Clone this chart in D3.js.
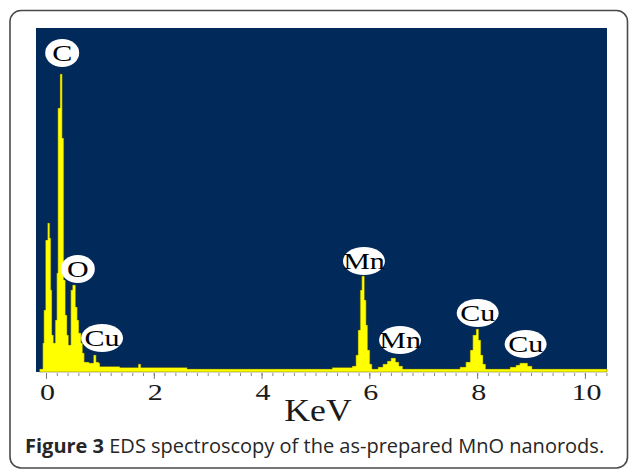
<!DOCTYPE html>
<html>
<head>
<meta charset="utf-8">
<script src="https://cdn.jsdelivr.net/npm/d3@7"></script>
<style>
  html, body { margin: 0; padding: 0; background: #ffffff; }
  svg { display: block; }
</style>
</head>
<body>
<svg id="chart" width="629" height="472"></svg>
<script>
// EDS spectrum: channel start energies (keV) and counts, drawn as a step histogram
const energyKeV = [
  -0.12, -0.06, -0.04, -0.01, 0.03, 0.07, 0.09, 0.11, 0.14, 0.17,
  0.20, 0.22, 0.26, 0.30, 0.33, 0.36, 0.39, 0.42, 0.46, 0.49,
  0.55, 0.58, 0.61, 0.65, 0.68, 0.71, 0.80, 0.88, 0.93, 0.98,
  1.00, 1.37, 1.71, 1.76, 2.62, 5.31, 5.68, 5.75, 5.79, 5.83,
  5.86, 5.91, 5.94, 5.97, 6.01, 6.05, 6.16, 6.25, 6.33, 6.40,
  6.49, 6.55, 6.62, 7.68, 7.79, 7.87, 7.92, 7.98, 8.03, 8.07,
  8.11, 8.16, 8.61, 8.72, 8.79, 8.94, 9.02, 10.41
];
const counts = [
  30, 290, 620, 1320, 1490, 1340, 820, 370, 290, 520,
  990, 2640, 2980, 2340, 920, 570, 370, 270, 820, 870,
  650, 520, 390, 290, 190, 100, 90, 170, 100, 90,
  55, 45, 80, 45, 30, 45, 60, 170, 420, 820,
  960, 720, 470, 220, 80, 30, 50, 80, 110, 140,
  100, 60, 30, 50, 100, 220, 370, 430, 320, 170,
  80, 30, 50, 70, 90, 60, 30, 30
];

// Peak labels: element, energy position (keV) and height (counts)
const peakLabels = ["C", "O", "Cu", "Mn", "Mn", "Cu", "Cu"];
const peakLabelEnergy = [0.30, 0.59, 1.04, 5.90, 6.57, 8.01, 8.90];
const peakLabelCounts = [3190, 1030, 340, 1110, 320, 590, 280];

// Axis ticks
const majorTicks = [0, 2, 4, 6, 8, 10];
const minorTicks = d3.range(0, 10.41, 0.2).map(v => +v.toFixed(1));
const xTitle = "KeV";
const captionBold = "Figure 3";
const captionText = " EDS spectroscopy of the as-prepared MnO nanorods.";

const serif = "'Liberation Serif', 'Times New Roman', serif";
const stretch = 1.25; // the serif lettering in this figure is set wide

const svg = d3.select("#chart");

// Rounded panel frame
svg.append("rect")
  .attr("x", 10).attr("y", 10.5)
  .attr("width", 617.5).attr("height", 457.5)
  .attr("rx", 11).attr("ry", 11)
  .attr("fill", "#ffffff")
  .attr("stroke", "#4a4a4a")
  .attr("stroke-width", 1.6);

const plot = { left: 36, right: 607, top: 28, bottom: 372 };

const x = d3.scaleLinear().domain([-0.186, 10.41]).range([plot.left, plot.right]);
const y = d3.scaleLinear().domain([0, 3440]).range([plot.bottom, plot.top]);

// Plot background
svg.append("rect")
  .attr("x", plot.left).attr("y", plot.top)
  .attr("width", plot.right - plot.left)
  .attr("height", plot.bottom - plot.top)
  .attr("fill", "#01295a");

const spectrum = energyKeV.map((e, i) => ({ e, c: counts[i] }));

const area = d3.area()
  .curve(d3.curveStepAfter)
  .x(d => x(d.e))
  .y0(y(0))
  .y1(d => y(d.c));

svg.append("path")
  .datum(spectrum)
  .attr("d", area)
  .attr("fill", "#ffff00")
  .attr("stroke", "#5c5c10")
  .attr("stroke-width", 0.5)
  .attr("stroke-linejoin", "miter");

// Axis ticks below the baseline
const minorAxis = d3.axisBottom(x)
  .tickValues(minorTicks)
  .tickSize(3)
  .tickFormat("");
svg.append("g")
  .attr("transform", `translate(0,${plot.bottom + 1})`)
  .call(minorAxis)
  .call(g => g.select(".domain").remove())
  .call(g => g.selectAll("line").attr("stroke", "#8a8a8a"));

const majorAxis = d3.axisBottom(x)
  .tickValues(majorTicks)
  .tickSize(6)
  .tickPadding(6)
  .tickFormat(d3.format("d"));
svg.append("g")
  .attr("transform", `translate(0,${plot.bottom + 1})`)
  .call(majorAxis)
  .call(g => g.select(".domain").remove())
  .call(g => g.selectAll("line").attr("stroke", "#7a7a7a"))
  .call(g => g.selectAll("text")
    .attr("font-family", serif)
    .attr("font-size", 24)
    .attr("fill", "#1a1a1a")
    .attr("y", 0)
    .attr("dy", 0)
    .attr("transform", `translate(1,27) scale(${stretch},1)`));

// Axis title
svg.append("text")
  .attr("transform", `translate(318,421) scale(1.15,1)`)
  .attr("text-anchor", "middle")
  .attr("font-family", serif)
  .attr("font-size", 31)
  .attr("fill", "#1a1a1a")
  .text(xTitle);

// Peak labels in white ellipses
const lg = svg.append("g");
peakLabels.forEach((name, i) => {
  const cx = x(peakLabelEnergy[i]);
  const cy = y(peakLabelCounts[i]);
  const g = lg.append("g");
  const el = g.append("ellipse")
    .attr("cx", cx).attr("cy", cy)
    .attr("ry", 14)
    .attr("fill", "#ffffff");
  const t = g.append("text")
    .attr("transform", `translate(${cx},${cy}) scale(${stretch},1)`)
    .attr("dy", "0.35em")
    .attr("text-anchor", "middle")
    .attr("font-family", serif)
    .attr("font-size", 24)
    .attr("fill", "#000000")
    .text(name);
  const w = t.node().getComputedTextLength() * stretch;
  el.attr("rx", Math.min(21, Math.max(17, w / 2 + 4)));
});

// Caption
const cap = svg.append("text")
  .attr("x", 25).attr("y", 453)
  .attr("font-family", "'Open Sans', 'Noto Sans', sans-serif")
  .attr("font-size", 20)
  .attr("fill", "#262626");
cap.append("tspan").attr("font-weight", "bold").text(captionBold);
cap.append("tspan").text(captionText);
</script>
</body>
</html>
